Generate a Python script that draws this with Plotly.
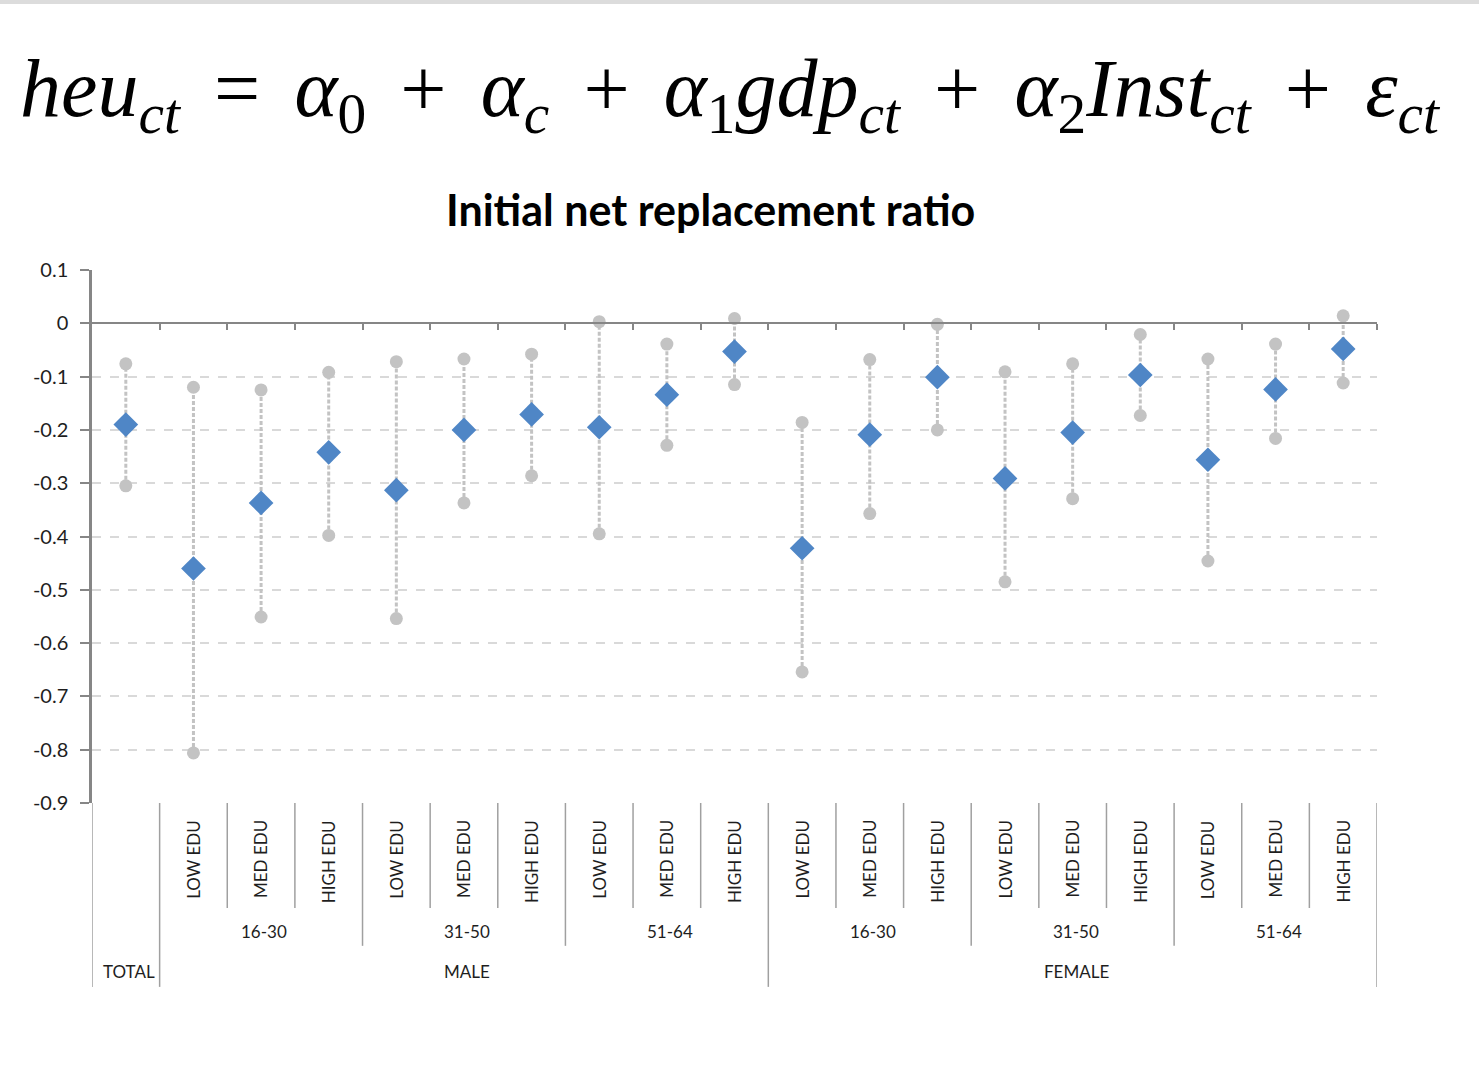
import plotly.graph_objects as go

# ---------------- data ----------------
gender_labels = ["TOTAL"] + ["MALE"] * 9 + ["FEMALE"] * 9
age_labels = [""] + ["16-30"] * 3 + ["31-50"] * 3 + ["51-64"] * 3 + ["16-30"] * 3 + ["31-50"] * 3 + ["51-64"] * 3
edu_labels = [""] + ["LOW EDU", "MED EDU", "HIGH EDU"] * 6

estimate = [-0.190, -0.460, -0.337, -0.242, -0.313, -0.200, -0.171, -0.195, -0.134, -0.053,
            -0.422, -0.209, -0.101, -0.291, -0.205, -0.097, -0.256, -0.124, -0.048]
upper = [-0.076, -0.120, -0.125, -0.092, -0.072, -0.067, -0.058, 0.003, -0.039, 0.009,
         -0.186, -0.068, -0.002, -0.091, -0.076, -0.021, -0.067, -0.039, 0.014]
lower = [-0.305, -0.806, -0.551, -0.398, -0.554, -0.337, -0.286, -0.395, -0.229, -0.115,
         -0.654, -0.357, -0.200, -0.485, -0.329, -0.173, -0.446, -0.216, -0.112]

y_tick_values = [0.1, 0.0, -0.1, -0.2, -0.3, -0.4, -0.5, -0.6, -0.7, -0.8, -0.9]
y_tick_labels = ["0.1", "0", "-0.1", "-0.2", "-0.3", "-0.4", "-0.5", "-0.6", "-0.7", "-0.8", "-0.9"]

title_text = "Initial net replacement ratio"
S = " \u2006"   # operator spacing
formula_text = ("<i>heu</i><sub><i>ct</i></sub>" + S + "=" + S + "<i>α</i><sub>0</sub>" + S + "+" + S +
                "<i>α</i><sub><i>c</i></sub>" + S + "+" + S +
                "<i>α</i><sub>1</sub><i>gdp</i><sub><i>ct</i></sub>" + S + "+" + S +
                "<i>α</i><sub>2</sub><i>Inst</i><sub><i>ct</i></sub>" + S + "+" + S +
                "<i>ε</i><sub><i>ct</i></sub>")

# ---------------- styles ----------------
AXIS_GRAY = "#868686"
GRID_GRAY = "#d9d9d9"
ERR_GRAY = "#c3c3c3"
BLUE = "#4f86c6"
TEXT = "#1e1e1e"
FONT = "Lato, 'Open Sans', sans-serif"

n = len(estimate)
xs = list(range(n))

fig = go.Figure()

# error-bar dotted lines
ex, ey = [], []
for i in xs:
    ex += [i, i, None]
    ey += [lower[i], upper[i], None]
fig.add_trace(go.Scatter(x=ex, y=ey, mode="lines",
                         line=dict(color=ERR_GRAY, width=3, dash="4px,2px"),
                         hoverinfo="skip", showlegend=False))
# endpoints
fig.add_trace(go.Scatter(x=xs + xs, y=upper + lower, mode="markers",
                         marker=dict(symbol="circle", size=13, color=ERR_GRAY, line=dict(width=0)),
                         showlegend=False))
# estimates
fig.add_trace(go.Scatter(x=xs, y=estimate, mode="markers",
                         marker=dict(symbol="diamond", size=19, color=BLUE, line=dict(width=0)),
                         showlegend=False))

shapes = []
annotations = []

# label region geometry (paper coordinates)
Y_EDU_TOP = -0.028
Y_AGE = -0.242
Y_GENDER = -0.317
Y_EDU_SEP = -0.197
Y_AGE_SEP = -0.268
Y_GEN_SEP = -0.345

def vline(x, ybot):
    shapes.append(dict(type="line", xref="x", yref="paper", x0=x, x1=x, y0=0, y1=ybot,
                       line=dict(color="#a0a0a0", width=1.5), layer="above"))

# outer edges
vline(-0.5, Y_GEN_SEP)
vline(n - 0.5, Y_GEN_SEP)
for i in range(n - 1):
    if gender_labels[i] != gender_labels[i + 1]:
        vline(i + 0.5, Y_GEN_SEP)
    elif age_labels[i] != age_labels[i + 1]:
        vline(i + 0.5, Y_AGE_SEP)
    else:
        vline(i + 0.5, Y_EDU_SEP)

# edu labels
for i in xs:
    if edu_labels[i]:
        annotations.append(dict(x=i, y=Y_EDU_TOP, xref="x", yref="paper", text=edu_labels[i],
                                textangle=-90, showarrow=False, xanchor="center", yanchor="top",
                                font=dict(family=FONT, size=17, color=TEXT)))

def spans(labels):
    out = []
    start = 0
    for i in range(1, n + 1):
        if i == n or labels[i] != labels[start] or (labels is age_labels and gender_labels[i] != gender_labels[start]):
            out.append((labels[start], start, i - 1))
            start = i
    return out

for lab, a, b in spans(age_labels):
    if lab:
        annotations.append(dict(x=(a + b) / 2 + 0.05, y=Y_AGE, xref="x", yref="paper", text=lab,
                                showarrow=False, xanchor="center", yanchor="middle",
                                font=dict(family=FONT, size=17, color=TEXT)))
for lab, a, b in spans(gender_labels):
    annotations.append(dict(x=(a + b) / 2 + 0.05, y=Y_GENDER, xref="x", yref="paper", text=lab,
                            showarrow=False, xanchor="center", yanchor="middle",
                            font=dict(family=FONT, size=17, color=TEXT)))

# title and formula
annotations.append(dict(x=0.481, y=1.1126, xref="paper", yref="paper", text="<b>" + title_text + "</b>",
                        showarrow=False, xanchor="center", yanchor="middle",
                        font=dict(family=FONT, size=43, color="#000000")))
annotations.append(dict(x=0.497, y=1.33, xref="paper", yref="paper", text=formula_text,
                        showarrow=False, xanchor="center", yanchor="middle",
                        font=dict(family="Liberation Serif, serif", size=82, color="#000000")))

# top gray strip of the page
shapes.append(dict(type="rect", xref="paper", yref="paper", x0=-0.08, x1=1.09, y0=1.499, y1=1.52,
                   fillcolor="#dcdcdc", line=dict(width=0), layer="above"))

fig.update_layout(
    width=1479, height=1067,
    margin=dict(l=92, r=102, t=270, b=264),
    paper_bgcolor="white", plot_bgcolor="white",
    shapes=shapes, annotations=annotations,
    showlegend=False,
    xaxis=dict(range=[-0.5, n - 0.5], showgrid=False, zeroline=False,
               showticklabels=False, anchor="free", position=0.9,
               showline=True, linecolor=AXIS_GRAY, linewidth=2,
               ticks="outside", ticklen=6, tickwidth=1.5, tickcolor=AXIS_GRAY,
               tickvals=[i + 0.5 for i in range(n)]),
    yaxis=dict(range=[-0.9, 0.1], tickvals=y_tick_values, ticktext=y_tick_labels,
               showgrid=True, gridcolor=GRID_GRAY, griddash="dash", gridwidth=1.5,
               zeroline=False, showline=True, linecolor=AXIS_GRAY, linewidth=2.5,
               ticks="outside", ticklen=9, tickwidth=1.5, tickcolor=AXIS_GRAY,
               ticklabelstandoff=8,
               tickfont=dict(family=FONT, size=20, color=TEXT)),
)

fig.write_html("out.html")
